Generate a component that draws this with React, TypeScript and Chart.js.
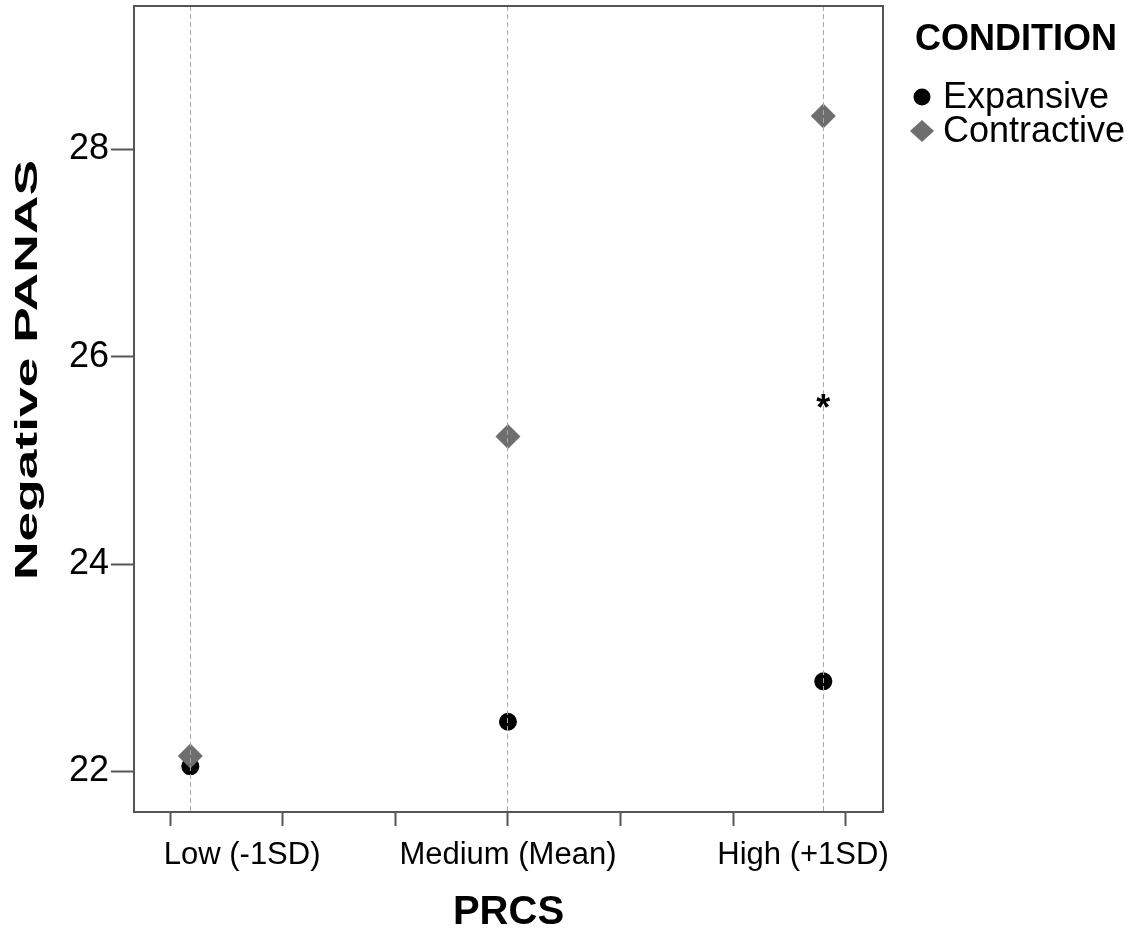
import React, { useEffect, useRef } from 'react';
import { Chart, registerables } from 'chart.js';

Chart.register(...registerables);

// ---- data ----
const conditions = ['Expansive', 'Contractive'];
const conditionColors = ['#000000', '#6e6e6e'];
const conditionStyles = ['circle', 'rectRot'];
const legendTitle = 'CONDITION';
const xTitle = 'PRCS';
const yTitle = 'Negative PANAS';

const prcsLevelLabels = ['Low (-1SD)', 'Medium (Mean)', 'High (+1SD)'];
const prcsLevelX = [-2.82, 0, 2.8]; // centred PRCS values of the three levels
const prcsLabelX = [-2.36, 0, 2.62]; // where the level labels sit
const prcsTickMarks = [-3, -2, -1, 0, 1, 2, 3];
const expansiveValues = [22.05, 22.48, 22.87];
const contractiveValues = [22.15, 25.23, 28.32];
const yTickValues = [22, 24, 26, 28];
const significanceX = [2.8];
const significanceY = [25.57];
const significanceText = ['*'];

const X_MIN = -3.32;
const X_MAX = 3.33;
const Y_MIN = 21.61;
const Y_MAX = 29.38;

const FONT = "'Liberation Sans', Arial, Helvetica, sans-serif";
const AXIS = '#555555';

const near = (arr: number[], v: number) => arr.some((a) => Math.abs(a - v) < 1e-9);

export default function App() {
  const ref = useRef<HTMLCanvasElement>(null);

  useEffect(() => {
    const canvas = ref.current;
    if (!canvas) return;

    const allXTicks = Array.from(new Set([...prcsTickMarks, ...prcsLabelX, ...prcsLevelX])).sort(
      (a, b) => a - b
    );

    const framePlugin = {
      id: 'frame',
      afterDraw(chart: any) {
        const { ctx, chartArea } = chart;
        ctx.save();
        ctx.strokeStyle = AXIS;
        ctx.lineWidth = 2;
        ctx.beginPath();
        ctx.moveTo(chartArea.left, chartArea.top);
        ctx.lineTo(chartArea.right, chartArea.top);
        ctx.lineTo(chartArea.right, chartArea.bottom);
        ctx.stroke();
        ctx.restore();
      },
    };

    const textPlugin = {
      id: 'texts',
      afterDraw(chart: any) {
        const { ctx, scales } = chart;
        ctx.save();
        // Y axis title (stretched along its length as in the reference)
        ctx.save();
        ctx.translate(28, 370);
        ctx.rotate(-Math.PI / 2);
        ctx.font = `bold 32px ${FONT}`;
        const w = ctx.measureText(yTitle).width;
        ctx.scale(420 / w, 1);
        ctx.fillStyle = '#000';
        ctx.textAlign = 'center';
        ctx.textBaseline = 'middle';
        ctx.fillText(yTitle, 0, 0);
        ctx.restore();

        // significance markers
        ctx.fillStyle = '#000';
        ctx.font = `bold 36px ${FONT}`;
        ctx.textAlign = 'center';
        ctx.textBaseline = 'alphabetic';
        significanceText.forEach((t, i) => {
          const px = scales.x.getPixelForValue(significanceX[i]);
          const py = scales.y.getPixelForValue(significanceY[i]);
          ctx.fillText(t, px, py + 0.52 * 36);
        });

        // legend
        ctx.textAlign = 'left';
        ctx.textBaseline = 'middle';
        ctx.font = `bold 36px ${FONT}`;
        ctx.fillText(legendTitle, 915, 40);
        ctx.font = `36px ${FONT}`;
        const rows = [97, 131];
        chart.data.datasets.forEach((ds: any, i: number) => {
          const cy = rows[i];
          const cx = 922;
          ctx.fillStyle = ds.backgroundColor;
          ctx.beginPath();
          if (ds.pointStyle === 'circle') {
            ctx.arc(cx, cy, 8.5, 0, Math.PI * 2);
          } else {
            ctx.moveTo(cx, cy - 11);
            ctx.lineTo(cx + 12, cy);
            ctx.lineTo(cx, cy + 11);
            ctx.lineTo(cx - 12, cy);
            ctx.closePath();
          }
          ctx.fill();
          ctx.fillStyle = '#000';
          ctx.fillText(ds.label, 943, cy + 1);
        });
        ctx.restore();
      },
    };

    const chart = new Chart(canvas, {
      type: 'scatter',
      data: {
        datasets: [
          {
            label: conditions[0],
            data: prcsLevelX.map((x, i) => ({ x, y: expansiveValues[i] })),
            pointStyle: conditionStyles[0] as any,
            pointRadius: 9,
            backgroundColor: conditionColors[0],
            borderColor: conditionColors[0],
            borderWidth: 0,
            order: 1,
          },
          {
            label: conditions[1],
            data: prcsLevelX.map((x, i) => ({ x, y: contractiveValues[i] })),
            pointStyle: conditionStyles[1] as any,
            pointRadius: 12.5,
            backgroundColor: conditionColors[1],
            borderColor: conditionColors[1],
            borderWidth: 0,
            order: 0,
          },
        ],
      },
      options: {
        responsive: false,
        animation: false,
        devicePixelRatio: 1,
        events: [],
        layout: { autoPadding: false, padding: { left: 0, right: 250, top: 6, bottom: 0 } },
        plugins: {
          legend: { display: false },
          tooltip: { enabled: false },
        },
        scales: {
          x: {
            type: 'linear',
            position: 'bottom',
            min: X_MIN,
            max: X_MAX,
            afterBuildTicks: (s: any) => {
              s.ticks = allXTicks.map((v) => ({ value: v }));
            },
            afterFit: (s: any) => {
              s.height = 121;
              s.paddingLeft = 0;
              s.paddingRight = 0;
            },
            ticks: {
              autoSkip: false,
              maxRotation: 0,
              minRotation: 0,
              padding: 11,
              color: '#000',
              font: { family: FONT, size: 31 },
              callback: (_v: any, i: number, ticks: any[]) => {
                const idx = prcsLabelX.findIndex((l) => Math.abs(l - ticks[i].value) < 1e-9);
                return idx >= 0 ? prcsLevelLabels[idx] : '';
              },
            },
            grid: {
              z: 1,
              drawOnChartArea: true,
              lineWidth: 1,
              color: (c: any) => (c.tick && near(prcsLevelX, c.tick.value) ? '#a8a8a8' : 'rgba(0,0,0,0)'),
              tickLength: 14,
              tickWidth: 2,
              tickColor: (c: any) => (c.tick && near(prcsTickMarks, c.tick.value) ? AXIS : 'rgba(0,0,0,0)'),
            },
            border: {
              display: true,
              z: 1,
              color: AXIS,
              width: 2,
              dash: (c: any) => (c.tick ? [5, 3] : []),
            },
            title: {
              display: true,
              text: xTitle,
              color: '#000',
              font: { family: FONT, size: 40, weight: 'bold', lineHeight: 1 },
              padding: { top: 0, bottom: 0 },
            },
          },
          y: {
            type: 'linear',
            min: Y_MIN,
            max: Y_MAX,
            afterBuildTicks: (s: any) => {
              s.ticks = yTickValues.map((v) => ({ value: v }));
            },
            afterFit: (s: any) => {
              s.width = 134;
              s.paddingTop = 0;
              s.paddingBottom = 0;
            },
            ticks: {
              padding: 2,
              color: '#000',
              font: { family: FONT, size: 36 },
              callback: (v: any) => String(v),
            },
            grid: {
              drawOnChartArea: false,
              tickLength: 23,
              tickWidth: 2,
              tickColor: AXIS,
            },
            border: { display: true, color: AXIS, width: 2 },
          },
        },
      } as any,
      plugins: [framePlugin, textPlugin],
    });

    return () => chart.destroy();
  }, []);

  return (
    <div style={{ position: 'absolute', left: 0, top: 0, width: 1133, height: 933, background: '#fff' }}>
      <canvas ref={ref} width={1133} height={933} style={{ display: 'block' }} />
    </div>
  );
}
